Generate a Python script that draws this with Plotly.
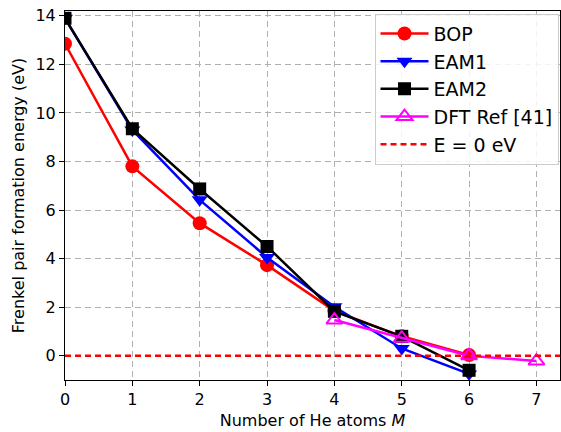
import plotly.graph_objects as go

# Data
M_MODEL = [0, 1, 2, 3, 4, 5, 6]
BOP = [12.85, 7.8, 5.46, 3.73, 1.85, 0.8, 0.03]
EAM1 = [13.9, 9.3, 6.42, 4.05, 2.02, 0.3, -0.75]
EAM2 = [13.9, 9.35, 6.87, 4.5, 1.83, 0.8, -0.6]
M_DFT = [4, 5, 6, 7]
DFT = [1.47, 0.72, 0.0, -0.22]
X_RANGE = [0, 7.35]
Y_RANGE = [-1, 14.2]
ZERO = [0, 0]
X_TICKS = [0, 1, 2, 3, 4, 5, 6, 7]
Y_TICKS = [0, 2, 4, 6, 8, 10, 12, 14]

FONT = "DejaVu Sans"

fig = go.Figure()
fig.add_trace(go.Scatter(x=M_MODEL, y=BOP, name="BOP", mode="lines+markers", legendgroup="a",
                         line=dict(color="#ff0000", width=2.5),
                         marker=dict(symbol="circle", size=14, color="#ff0000")))
fig.add_trace(go.Scatter(x=M_MODEL, y=EAM1, name="EAM1", mode="lines+markers", legendgroup="b",
                         line=dict(color="#0000ff", width=2.5),
                         marker=dict(symbol="triangle-down", size=14, color="#0000ff")))
fig.add_trace(go.Scatter(x=M_MODEL, y=EAM2, name="EAM2", mode="lines+markers", legendgroup="c",
                         line=dict(color="#000000", width=2.5),
                         marker=dict(symbol="square", size=13, color="#000000")))
fig.add_trace(go.Scatter(x=M_DFT, y=DFT, name="DFT Ref [41]", mode="lines+markers", legendgroup="d",
                         line=dict(color="#ff00ff", width=2.5),
                         marker=dict(symbol="triangle-up-open", size=14, color="#ff00ff",
                                     line=dict(width=2, color="#ff00ff"))))
fig.add_trace(go.Scatter(x=X_RANGE, y=ZERO, name="E = 0 eV", mode="lines", legendgroup="e",
                         line=dict(color="#ff0000", width=2.5, dash="6px,4px")))

axis_common = dict(
    showline=True, mirror=True, linecolor="black", linewidth=1,
    ticks="outside", ticklen=5, tickwidth=1, tickcolor="black",
    showgrid=True, gridcolor="#b0b0b0", gridwidth=1, griddash="6px,4px",
    zeroline=False, tickfont=dict(family=FONT, size=16, color="black"),
)

fig.update_xaxes(range=X_RANGE, tickvals=X_TICKS,
                 title=dict(text="Number of He atoms <i>M</i>", standoff=6,
                            font=dict(family=FONT, size=16, color="black")),
                 **axis_common)
fig.update_yaxes(range=Y_RANGE, tickvals=Y_TICKS,
                 title=dict(text="Frenkel pair formation energy (eV)", standoff=6,
                            font=dict(family=FONT, size=16, color="black")),
                 **axis_common)

fig.update_layout(
    width=561, height=432,
    margin=dict(l=65, r=1, t=11, b=52),
    plot_bgcolor="white", paper_bgcolor="white",
    font=dict(family=FONT, size=16, color="black"),
    showlegend=True,
    legend=dict(x=0.997, y=0.993, xanchor="right", yanchor="top",
                bgcolor="rgba(255,255,255,0.85)", bordercolor="#cccccc", borderwidth=1,
                font=dict(family=FONT, size=19, color="black"),
                itemwidth=48, tracegroupgap=0, traceorder="grouped"),
)

fig.write_html("out.html")
